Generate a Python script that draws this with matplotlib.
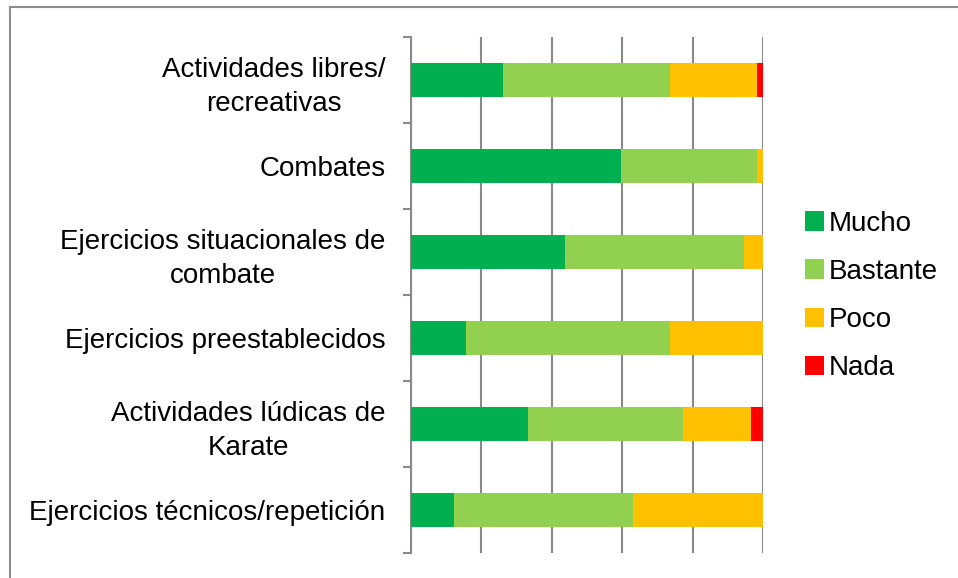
import matplotlib.pyplot as plt
from matplotlib.lines import Line2D
import numpy as np

# Categories top to bottom
categorias = ['Actividades libres/\nrecreativas', 'Combates',
              'Ejercicios situacionales de\ncombate', 'Ejercicios preestablecidos',
              'Actividades lúdicas de\nKarate', 'Ejercicios técnicos/repetición']

# Percentages
mucho = [26.2, 59.6, 43.7, 15.7, 33.2, 12.2]
bastante = [47.4, 38.6, 50.9, 57.9, 44.0, 50.9]
poco = [24.6, 1.8, 5.4, 26.4, 19.3, 36.9]
nada = [1.8, 0.0, 0.0, 0.0, 3.5, 0.0]

series = ['Mucho', 'Bastante', 'Poco', 'Nada']
colores = ['#00B050', '#92D050', '#FFC000', '#FF0000']

plt.rcParams['font.family'] = ['Liberation Sans', 'DejaVu Sans']
plt.rcParams['font.size'] = 20

fig = plt.figure(figsize=(9.58, 5.78), dpi=100)
ax = fig.add_axes([411/958, 1 - 553/578, (763.3 - 411)/958, (553 - 37)/578])

y = np.arange(len(categorias))
left = np.zeros(len(categorias))
for vals, nombre, col in zip([mucho, bastante, poco, nada], series, colores):
    ax.barh(y, vals, left=left, height=0.4, color=col, label=nombre, zorder=3)
    left += np.array(vals)

ax.set_xlim(0, 100)
ax.set_ylim(len(categorias) - 0.5, -0.5)

# Gridlines
ax.set_xticks([0, 20, 40, 60, 80, 100])
ax.xaxis.grid(True, color='#898989', linewidth=1.5, zorder=0)
ax.tick_params(axis='x', length=0, labelbottom=False)

# Category labels between tick marks at boundaries
ax.set_yticks(y)
ax.set_yticklabels(categorias, multialignment='center', linespacing=1.4)
ax.set_yticks(np.arange(-0.5, len(categorias)), minor=True)
ax.tick_params(axis='y', which='major', length=0, pad=18.5)
ax.tick_params(axis='y', which='minor', length=6, width=1.5, color='#898989', direction='out')

for s in ['top', 'right', 'bottom']:
    ax.spines[s].set_visible(False)
ax.spines['left'].set_color('#898989')
ax.spines['left'].set_linewidth(1.5)

leg = ax.legend(loc='center left', bbox_to_anchor=(805/958, 1 - 296/578),
                bbox_transform=fig.transFigure, frameon=False,
                handlelength=0.7, handleheight=0.7, handletextpad=0.15,
                labelspacing=0.8, borderpad=0, borderaxespad=0)

# Outer chart border (left and top edges visible)
fig.add_artist(Line2D([10/958, 10/958], [0, 1 - 7/578], transform=fig.transFigure,
                      color='#8c8c8c', linewidth=1.5))
fig.add_artist(Line2D([10/958, 1], [1 - 7/578, 1 - 7/578], transform=fig.transFigure,
                      color='#8c8c8c', linewidth=1.5))

plt.savefig('out.png', dpi=100, facecolor='white')
